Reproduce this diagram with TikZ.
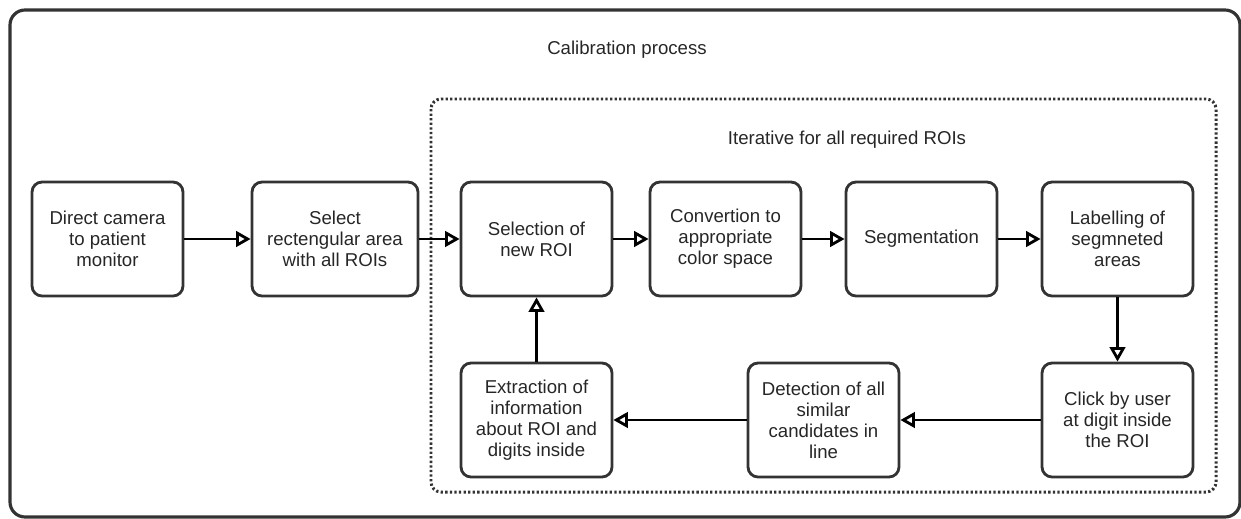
\documentclass[tikz,border=0pt]{standalone}
\usepackage{fontspec}
\setmainfont{Liberation Sans}
\usetikzlibrary{arrows.meta}
\tikzset{
	stepbox/.style={draw=black!80, line width=1.6pt, rounded corners=0.2cm,
		minimum width=3.02cm, minimum height=2.28cm, align=center,
		inner sep=0pt, font=\fontsize{10.6}{12}\selectfont, text=black!85},
	flow/.style={line width=1.6pt, -{Triangle[open,length=2.9mm,width=3.1mm]}}
}

\begin{document}
\begin{tikzpicture}[x=0.02cm,y=-0.02cm]
\useasboundingbox (0,0) rectangle (1241,518);

%calibration frame
\draw[black!80, line width=1.8pt, rounded corners=0.3cm] (10,10) rectangle (1240,517);
\node[font=\fontsize{10.6}{12}\selectfont, text=black!85] at (627,50) {Calibration process};

%iteration frame
\draw[black!80, line width=1.7pt, dash pattern=on 1.3pt off 1.3pt, rounded corners=0.2cm] (431,99) rectangle (1216,492);
\node[font=\fontsize{10.6}{12}\selectfont, text=black!85] at (847,140) {Iterative for all required ROIs};

% top row
\node[stepbox] (cam) at (107.5,239) {Direct camera\\to patient\\monitor};
\node[stepbox, minimum width=3.32cm] (area) at (335,239) {Select\\rectengular area\\with all ROIs};
\node[stepbox] (roi) at (536.5,239) {Selection of\\new ROI};
\node[stepbox] (conv) at (725.5,239) {Convertion to\\appropriate\\color space};
\node[stepbox] (seg) at (921.5,239) {Segmentation};
\node[stepbox] (lab) at (1117.5,239) {Labelling of\\segmneted\\areas};

% bottom row
\node[stepbox] (ext) at (536.5,420) {Extraction of\\information\\about ROI and\\digits inside};
\node[stepbox] (det) at (823.5,420) {Detection of all\\similar\\candidates in\\line};
\node[stepbox] (clk) at (1117.5,420) {Click by user\\at digit inside\\the ROI};

%arrows
\draw[flow] (cam) -- (area);
\draw[flow] (area) -- (roi);
\draw[flow] (roi) -- (conv);
\draw[flow] (conv) -- (seg);
\draw[flow] (seg) -- (lab);
\draw[flow] (lab) -- (clk);
\draw[flow] (clk) -- (det);
\draw[flow] (det) -- (ext);
\draw[flow] (ext) -- (roi);

\end{tikzpicture}
\end{document}
